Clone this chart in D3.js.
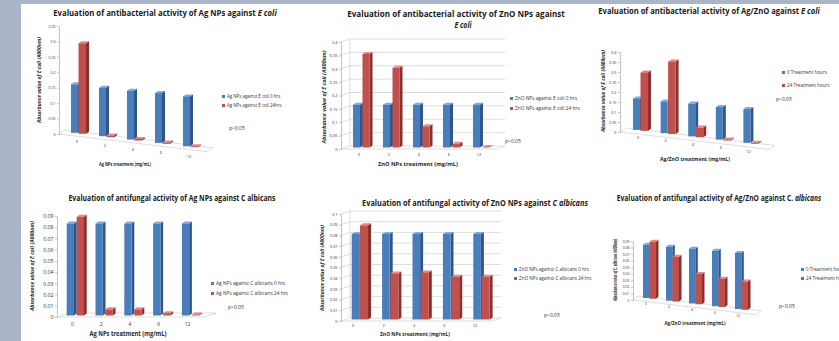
<!DOCTYPE html>
<html>
<head>
<meta charset="utf-8">
<script src="https://cdn.jsdelivr.net/npm/d3@7"></script>
<style>
  body { margin: 0; background: #fff; }
  svg { display: block; font-family: "Liberation Sans Narrow", "Open Sans", sans-serif; }
</style>
</head>
<body>
<script>
// treatment doses (mg/mL)
var doses = ["0", "2", "4", "6", "12"];

// absorbance values, 0 hrs and 24 hrs
var agEcoli0 = [0.156, 0.154, 0.153, 0.154, 0.152];
var agEcoli24 = [0.29, 0.005, 0.005, 0.004, 0.003];
var znoEcoli0 = [0.16, 0.16, 0.16, 0.16, 0.16];
var znoEcoli24 = [0.35, 0.298, 0.079, 0.014, 0.002];
var agznoEcoli0 = [0.155, 0.152, 0.153, 0.148, 0.15];
var agznoEcoli24 = [0.285, 0.345, 0.045, 0.005, 0.004];
var agCalb0 = [0.082, 0.082, 0.082, 0.082, 0.082];
var agCalb24 = [0.088, 0.0055, 0.0055, 0.002, 0.0008];
var znoCalb0 = [0.08, 0.08, 0.08, 0.08, 0.08];
var znoCalb24 = [0.088, 0.043, 0.044, 0.04, 0.04];
var agznoCalb0 = [0.08, 0.079, 0.078, 0.077, 0.076];
var agznoCalb24 = [0.085, 0.065, 0.043, 0.039, 0.038];

// y tick labels
var ticks035 = [0, 0.05, 0.1, 0.15, 0.2, 0.25, 0.3, 0.35];
var ticks040 = [0, 0.05, 0.1, 0.15, 0.2, 0.25, 0.3, 0.35, 0.4];
var ticks009 = [0, 0.01, 0.02, 0.03, 0.04, 0.05, 0.06, 0.07, 0.08, 0.09];
var ticks010 = [0, 0.01, 0.02, 0.03, 0.04, 0.05, 0.06, 0.07, 0.08, 0.09, 0.1];

// front, side, top shades
var blue = ["#4a7ebb", "#2f568c", "#82a8d8"];
var red = ["#c0504d", "#8c2f2c", "#da8c89"];

var svg = d3.select("body").append("svg")
    .attr("width", 839)
    .attr("height", 341);

// slide background
svg.append("rect").attr("width", 839).attr("height", 341).attr("fill", "#aab5c9");
svg.append("rect").attr("x", 21).attr("y", 4).attr("width", 818).attr("height", 337).attr("fill", "#fff");

function poly(g, pts, fill) {
  g.append("polygon")
    .attr("points", pts.map(function(q) { return q.join(","); }).join(" "))
    .attr("fill", fill);
}

function drawPanel(p) {
  var g = svg.append("g");
  var y = d3.scaleLinear().domain([0, p.max]).range([p.y0, p.yTop]);
  var x = d3.scaleBand().domain(doses).range(p.xr);
  var slope = p.slope || 0, grow = p.grow || 0;
  var base = function(px) { return p.y0 + p.barDy + slope * (px - p.ax); };
  var k = function(px) { return 1 + grow * (px - p.ax); };
  var fy = function(px) { return p.y0 + slope * (px - p.ax); };
  var xEnd = p.xr[1] + 2;

  // floor
  g.append("path")
    .attr("d", "M" + p.ax + "," + fy(p.ax) + "L" + xEnd + "," + fy(xEnd) +
      "L" + (xEnd + p.wall[0]) + "," + (fy(xEnd) + p.wall[1]) +
      "L" + (p.ax + p.wall[0]) + "," + (p.y0 + p.wall[1]) + "Z")
    .attr("fill", "#fff").attr("stroke", "#c8c8c8").attr("stroke-width", 0.6);

  // back wall gridlines
  if (p.grid) {
    g.selectAll(".grid").data(p.ticks.slice(1)).join("path")
      .attr("d", function(t) {
        var yy = y(t);
        return "M" + p.ax + "," + yy + "L" + (p.ax + p.wall[0]) + "," + (yy + p.wall[1]) +
          "L" + (xEnd + p.wall[0]) + "," + (yy + p.wall[1]);
      })
      .attr("fill", "none").attr("stroke", "#c8c8c8").attr("stroke-width", 0.6);
    g.append("line")
      .attr("x1", p.ax + p.wall[0]).attr("x2", p.ax + p.wall[0])
      .attr("y1", p.y0 + p.wall[1]).attr("y2", y(p.max) + p.wall[1])
      .attr("stroke", "#c8c8c8").attr("stroke-width", 0.6);
  }

  // y axis
  var yAxis = g.append("g")
    .attr("transform", "translate(" + p.ax + ",0)")
    .call(d3.axisLeft(y).tickValues(p.ticks).tickSize(2).tickSizeOuter(0)
      .tickPadding(1.5).tickFormat(d3.format("~g")));
  yAxis.attr("font-family", null);
  yAxis.select(".domain").attr("stroke", "#9a9a9a").attr("stroke-width", 0.6);
  yAxis.selectAll(".tick line").attr("stroke", "#9a9a9a").attr("stroke-width", 0.6);
  yAxis.selectAll(".tick text").attr("font-size", p.tickFont).attr("fill", "#333");

  // bars
  var series = [
    {vals: p.s0, c: blue, off: p.off[0], w: p.w[0]},
    {vals: p.s1, c: red, off: p.off[1], w: p.w[1]}
  ];
  var dx = p.depth[0], dy = p.depth[1];
  doses.forEach(function(d, i) {
    series.forEach(function(s) {
      var x0 = x(d) + s.off, w = s.w, cx = x0 + w / 2;
      var b = base(cx), h = k(cx) * (p.y0 - y(s.vals[i])), t = b - h;
      poly(g, [[x0 + w, t], [x0 + w + dx, t + dy], [x0 + w + dx, b + dy], [x0 + w, b]], s.c[1]);
      poly(g, [[x0, t], [x0 + dx, t + dy], [x0 + w + dx, t + dy], [x0 + w, t]], s.c[2]);
      g.append("rect").attr("x", x0).attr("y", t).attr("width", w).attr("height", h).attr("fill", s.c[0]);
    });
  });

  // x tick labels
  g.selectAll(".xl").data(doses).join("text")
    .attr("x", function(d) { return x(d) + p.lab[0]; })
    .attr("y", function(d) { return p.lab[1] + p.lab[2] * (x(d) + p.lab[0] - p.ax); })
    .attr("text-anchor", "middle")
    .attr("font-size", p.xFont)
    .attr("fill", "#333")
    .text(function(d) { return d; });

  // title, squeezed horizontally to the width it has in the picture
  p.title.forEach(function(line) {
    var tx = g.append("text")
      .attr("text-anchor", "middle")
      .attr("font-weight", "bold")
      .attr("font-size", line.size)
      .attr("fill", "#1a1a1a");
    line.parts.forEach(function(pt) {
      tx.append("tspan").attr("font-style", pt[1] ? "italic" : null).text(pt[0]);
    });
    var tw = tx.node().getComputedTextLength();
    tx.attr("transform", "translate(" + line.x + "," + line.y + ") scale(" + (line.len / tw) + ",1)");
  });

  // axis titles
  g.append("text")
    .attr("transform", "translate(" + p.yTitle.x + "," + p.yTitle.y + ") rotate(-90)")
    .attr("text-anchor", "middle")
    .attr("font-weight", "bold").attr("font-style", "italic")
    .attr("font-size", p.yTitle.size)
    .attr("textLength", p.yTitle.len).attr("lengthAdjust", "spacingAndGlyphs")
    .attr("fill", "#262626")
    .text(p.yTitle.text);

  g.append("text")
    .attr("x", p.xTitle.x).attr("y", p.xTitle.y)
    .attr("text-anchor", "middle")
    .attr("font-weight", "bold")
    .attr("font-size", p.xTitle.size)
    .attr("textLength", p.xTitle.len).attr("lengthAdjust", "spacingAndGlyphs")
    .attr("fill", "#262626")
    .text(p.xTitle.text);

  // legend
  var lg = g.selectAll(".lg").data(p.legend.labels).join("g")
    .attr("transform", function(d, i) { return "translate(" + p.legend.x + "," + p.legend.y[i] + ")"; });
  lg.append("rect").attr("x", 0).attr("y", -3).attr("width", 3).attr("height", 3)
    .attr("fill", function(d, i) { return i ? red[0] : blue[0]; });
  lg.append("text").attr("x", 5).attr("y", 0)
    .attr("font-size", p.legend.size).attr("fill", "#333")
    .text(function(d) { return d; });

  g.append("text")
    .attr("x", p.pval.x).attr("y", p.pval.y)
    .attr("font-size", p.pval.size).attr("fill", "#333")
    .text("p<0.05");
}

// Ag NPs vs E coli
drawPanel({
  ax: 59, y0: 134, yTop: 26, max: 0.35, ticks: ticks035, tickFont: 3.6,
  xr: [65, 205], slope: 0.12, grow: 0.0005, barDy: -3, wall: [6, -4], depth: [3, -2],
  s0: agEcoli0, s1: agEcoli24, off: [6, 13.5], w: [7, 7.5],
  lab: [12, 140.6, 0.134], xFont: 4,
  title: [{x: 165, y: 15.5, size: 9, len: 224,
    parts: [["Evaluation of antibacterial activity of Ag NPs against ", 0], ["E coli", 1]]}],
  yTitle: {x: 41, y: 80, size: 5.5, len: 86, text: "Absorbance value of E coli (A600nm)"},
  xTitle: {x: 125, y: 166, size: 5.2, len: 52, text: "Ag NPs treatment (mg/mL)"},
  legend: {x: 222, y: [98, 107], size: 4.4, labels: ["Ag NPs against E coli 0 hrs", "Ag NPs against E coli 24hrs"]},
  pval: {x: 229, y: 130, size: 5}
});

// ZnO NPs vs E coli
drawPanel({
  ax: 341, y0: 149, yTop: 42, max: 0.4, ticks: ticks040, tickFont: 4,
  xr: [344, 494], barDy: -1.5, wall: [9, -3], depth: [3, -2], grid: true,
  s0: znoEcoli0, s1: znoEcoli24, off: [9, 18.5], w: [7, 7],
  lab: [15, 156, 0], xFont: 4,
  title: [{x: 456, y: 16.5, size: 8.5, len: 218,
      parts: [["Evaluation of antibacterial activity of ZnO NPs against", 0]]},
    {x: 463, y: 27.5, size: 8.5, len: 17, parts: [["E coli", 1]]}],
  yTitle: {x: 326, y: 97, size: 5.5, len: 93, text: "Absorbance value of E coli (A600nm)"},
  xTitle: {x: 418, y: 166, size: 5.5, len: 80, text: "ZnO NPs treatment (mg/mL)"},
  legend: {x: 510, y: [100, 110], size: 4.8, labels: ["ZnO NPs against E coli 0 hrs", "ZnO NPs against E coli 24 hrs"]},
  pval: {x: 505, y: 143, size: 5}
});

// Ag/ZnO vs E coli
drawPanel({
  ax: 620, y0: 132, yTop: 52, max: 0.4, ticks: ticks040, tickFont: 3.8,
  xr: [629, 767], slope: 0.117, grow: 0.001, barDy: -4, wall: [6, -4], depth: [3, -2],
  s0: agznoEcoli0, s1: agznoEcoli24, off: [4, 11.5], w: [7, 7.5],
  lab: [9, 136.8, 0.124], xFont: 3.8,
  title: [{x: 709, y: 14, size: 8.5, len: 222,
    parts: [["Evaluation of antibacterial activity of Ag/ZnO against ", 0], ["E coli", 1]]}],
  yTitle: {x: 605, y: 91, size: 6, len: 82, text: "Absorbance value of E coli (A600nm)"},
  xTitle: {x: 695, y: 161, size: 4.8, len: 70, text: "Ag/ZnO treatment (mg/mL)"},
  legend: {x: 782, y: [74, 87], size: 4.6, labels: ["0 Treatment hours", "24 Treatment hours"]},
  pval: {x: 776, y: 101, size: 5}
});

// Ag NPs vs C albicans
drawPanel({
  ax: 57, y0: 317, yTop: 216, max: 0.09, ticks: ticks009, tickFont: 5.2,
  xr: [58, 202], barDy: -1.5, wall: [12, -4], depth: [2.7, -2],
  s0: agCalb0, s1: agCalb24, off: [8.7, 18.7], w: [7.3, 7.3],
  lab: [14.4, 326, 0], xFont: 5,
  title: [{x: 172, y: 201, size: 8.5, len: 207,
    parts: [["Evaluation of antifungal activity of Ag NPs against C albicans", 0]]}],
  yTitle: {x: 34, y: 266, size: 5.5, len: 90, text: "Absorbance value of E coli (A600nm)"},
  xTitle: {x: 128, y: 336, size: 6.2, len: 77, text: "Ag NPs treatment (mg/mL)"},
  legend: {x: 211, y: [285, 295], size: 4.8, labels: ["Ag NPs against C albicans 0 hrs", "Ag NPs against C albicans 24 hrs"]},
  pval: {x: 228, y: 309, size: 5}
});

// ZnO NPs vs C albicans
drawPanel({
  ax: 341, y0: 321, yTop: 214, max: 0.1, ticks: ticks010, tickFont: 3.8,
  xr: [338, 490], barDy: -1.5, wall: [9, -3], depth: [3, -2], grid: true,
  s0: znoCalb0, s1: znoCalb24, off: [13.7, 22], w: [7.6, 8],
  lab: [15.2, 327, 0], xFont: 3.8,
  title: [{x: 475, y: 206, size: 9.5, len: 226,
    parts: [["Evaluation of antifungal activity of ZnO NPs against ", 0], ["C albicans", 1]]}],
  yTitle: {x: 324, y: 268, size: 5, len: 86, text: "Absorbance value of E coli (A600nm)"},
  xTitle: {x: 415, y: 336, size: 5, len: 70, text: "ZnO NPs treatment (mg/mL)"},
  legend: {x: 514, y: [271, 280], size: 4.6, labels: ["ZnO NPs against C albicans 0 hrs", "ZnO NPs against C albicans 24 hrs"]},
  pval: {x: 544, y: 317, size: 5}
});

// Ag/ZnO vs C albicans
drawPanel({
  ax: 633, y0: 300, yTop: 241, max: 0.09, ticks: ticks009, tickFont: 3.4,
  xr: [639, 754], slope: 0.12, grow: 0.0012, barDy: -3.6, wall: [5, -4], depth: [2.5, -2],
  s0: agznoCalb0, s1: agznoCalb24, off: [4, 10.5], w: [6.3, 6.5],
  lab: [7, 302.7, 0.14], xFont: 3.6,
  title: [{x: 719, y: 200.5, size: 8.5, len: 205,
    parts: [["Evaluation of antifungal activity of Ag/ZnO against C. ", 0], ["albicans", 1]]}],
  yTitle: {x: 617, y: 270, size: 4.8, len: 62, text: "Absorbance value of C. albicans (A600nm)"},
  xTitle: {x: 695, y: 325, size: 4.6, len: 61, text: "Ag/ZnO treatment (mg/mL)"},
  legend: {x: 801, y: [271, 280], size: 4.6, labels: ["0 Treatment hours", "24 Treatment hours"]},
  pval: {x: 779, y: 308, size: 5}
});
</script>
</body>
</html>
